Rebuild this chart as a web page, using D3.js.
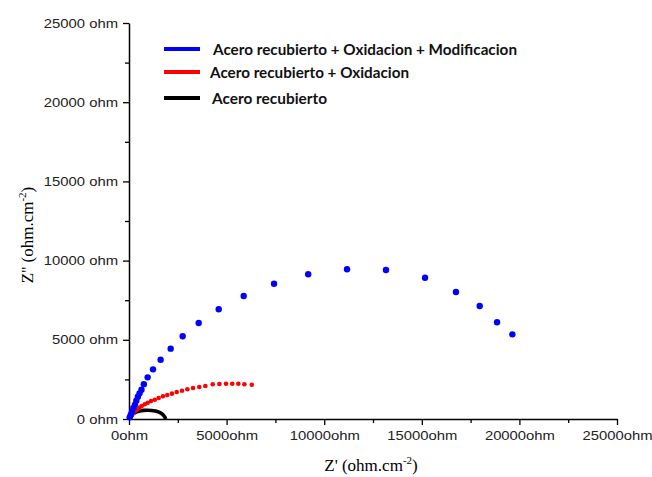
<!DOCTYPE html>
<html>
<head>
<meta charset="utf-8">
<script src="https://cdn.jsdelivr.net/npm/d3@7"></script>
<style>
  body { margin: 0; background: #fff; }
</style>
</head>
<body>
<div id="chart"></div>
<script>
// Nyquist data (Z', Z'')
const blueZr = [35, 90, 155, 225, 305, 375, 455, 540, 640, 760, 955, 1230, 1620, 2135, 2750, 3570, 4595, 5875, 7430, 9180, 11170, 13165, 15165, 16750, 17965, 18855, 19640];
const blueZi = [105, 270, 480, 690, 910, 1160, 1400, 1620, 1850, 2200, 2630, 3135, 3745, 4440, 5220, 6060, 6925, 7765, 8540, 9135, 9450, 9405, 8920, 8020, 7135, 6105, 5345];

const redZr = [100, 155, 220, 305, 410, 530, 650, 805, 960, 1130, 1320, 1520, 1740, 1960, 2200, 2445, 2715, 2990, 3280, 3600, 3910, 4290, 4630, 4970, 5290, 5600, 5910, 6290];
const redZi = [145, 270, 380, 505, 610, 715, 820, 930, 1030, 1135, 1220, 1325, 1435, 1515, 1600, 1705, 1785, 1875, 1955, 2020, 2085, 2190, 2210, 2230, 2230, 2230, 2190, 2165];

const blackZr = [0, 60, 150, 260, 400, 560, 750, 950, 1150, 1350, 1530, 1680, 1790, 1850, 1880];
const blackZi = [0, 150, 270, 370, 450, 510, 545, 555, 540, 500, 430, 330, 200, 90, 0];

const majorTicks = [0, 5000, 10000, 15000, 20000, 25000];
const minorTicks = [2500, 7500, 12500, 17500, 22500];

const seriesNames = [
  "Acero recubierto + Oxidacion + Modificacion",
  "Acero recubierto + Oxidacion",
  "Acero recubierto"
];
const seriesColors = ["#0000ff", "#ff0000", "#000000"];

const width = 652, height = 477;
const margin = { top: 23, right: 35, bottom: 58, left: 129 };

const svg = d3.select("#chart").append("svg")
  .attr("width", width)
  .attr("height", height);

const x = d3.scaleLinear().domain([0, 25000]).range([margin.left, 617]);
const y = d3.scaleLinear().domain([0, 25000]).range([419, margin.top]);

const tickFont = "'Liberation Sans', Arial, sans-serif";

// minor ticks
svg.append("g")
  .attr("transform", `translate(0,${y(0)})`)
  .call(d3.axisBottom(x).tickValues(minorTicks).tickSize(4).tickFormat(""))
  .call(g => g.select(".domain").remove())
  .selectAll("line").attr("stroke-width", 1.3);
svg.append("g")
  .attr("transform", `translate(${x(0)},0)`)
  .call(d3.axisLeft(y).tickValues(minorTicks).tickSize(4).tickFormat(""))
  .call(g => g.select(".domain").remove())
  .selectAll("line").attr("stroke-width", 1.3);

// major axes
const xAxis = svg.append("g")
  .attr("transform", `translate(0,${y(0)})`)
  .call(d3.axisBottom(x).tickValues(majorTicks).tickSize(6).tickSizeOuter(0).tickPadding(6)
    .tickFormat(d => d + "ohm"));
const yAxis = svg.append("g")
  .attr("transform", `translate(${x(0)},0)`)
  .call(d3.axisLeft(y).tickValues(majorTicks).tickSize(6).tickSizeOuter(0).tickPadding(5)
    .tickFormat(d => d + " ohm"));

// labels in the original are a little wider than Arial, stretch them
[xAxis, yAxis].forEach(g => {
  g.select(".domain").attr("stroke-width", 1.5);
  g.selectAll(".tick line").attr("stroke-width", 1.3);
  g.selectAll("text")
    .attr("font-family", tickFont)
    .attr("font-size", "13px")
    .attr("fill", "#222")
    .each(function () {
      const w = this.getComputedTextLength();
      d3.select(this).attr("textLength", w * 1.14).attr("lengthAdjust", "spacingAndGlyphs");
    });
});

// black curve
const pts = blackZr.map((v, i) => [v, blackZi[i]]);
svg.append("path")
  .datum(pts)
  .attr("fill", "none")
  .attr("stroke", "#000")
  .attr("stroke-width", 3.6)
  .attr("d", d3.line().x(d => x(d[0])).y(d => y(d[1])).curve(d3.curveCatmullRom));

// red points
svg.selectAll(".red")
  .data(redZr.map((v, i) => [v, redZi[i]]))
  .enter().append("circle")
  .attr("cx", d => x(d[0]))
  .attr("cy", d => y(d[1]))
  .attr("r", 2.3)
  .attr("fill", "#ff0000");

// blue points
svg.selectAll(".blue")
  .data(blueZr.map((v, i) => [v, blueZi[i]]))
  .enter().append("circle")
  .attr("cx", d => x(d[0]))
  .attr("cy", d => y(d[1]))
  .attr("r", 3.2)
  .attr("fill", "#0000ff");

// legend
const legendY = [49, 72, 98];
const legendTextX = [213, 210, 212];
const legendTextW = [304, 199, 115];
const legend = svg.append("g");
seriesNames.forEach((name, i) => {
  legend.append("line")
    .attr("x1", 164).attr("x2", 200)
    .attr("y1", legendY[i]).attr("y2", legendY[i])
    .attr("stroke", seriesColors[i])
    .attr("stroke-width", 4);
  legend.append("text")
    .attr("x", legendTextX[i])
    .attr("y", legendY[i] + 5.5)
    .attr("font-family", "Lato, Calibri, sans-serif")
    .attr("font-weight", "bold")
    .attr("font-size", "15px")
    .attr("fill", "#111")
    .attr("textLength", legendTextW[i])
    .attr("lengthAdjust", "spacingAndGlyphs")
    .text(name);
});

// axis titles
const serif = "'Liberation Serif', 'Times New Roman', serif";
const xt = svg.append("text")
  .attr("x", 371).attr("y", 471)
  .attr("text-anchor", "middle")
  .attr("font-family", serif)
  .attr("font-size", "17px");
xt.append("tspan").text("Z' (ohm.cm");
xt.append("tspan").attr("dy", -7).attr("font-size", "11px").text("-2");
xt.append("tspan").attr("dy", 7).text(")");

const yt = svg.append("text")
  .attr("transform", "translate(33,235) rotate(-90)")
  .attr("text-anchor", "middle")
  .attr("font-family", serif)
  .attr("font-size", "17px");
yt.append("tspan").text("Z'' (ohm.cm");
yt.append("tspan").attr("dy", -7).attr("font-size", "11px").text("-2");
yt.append("tspan").attr("dy", 7).text(")");
</script>
</body>
</html>
